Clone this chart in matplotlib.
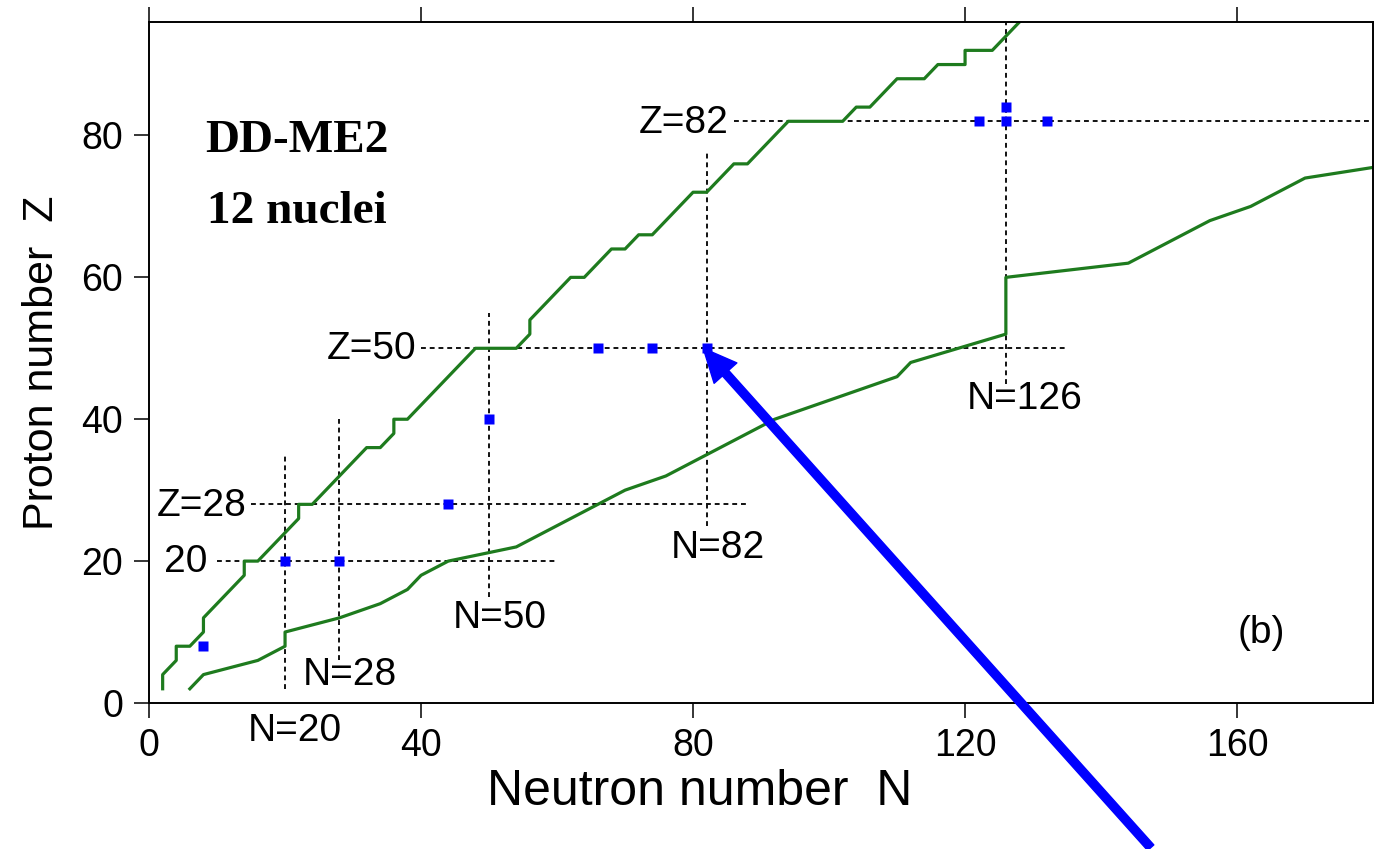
import numpy as np
import matplotlib.pyplot as plt

plt.rcParams['font.family'] = ['Liberation Sans', 'DejaVu Sans']

# proton drip line (N, Z)
prot_n = [2, 2, 4, 4, 6, 8, 8, 14, 14, 16, 22, 22, 24, 32, 34, 36, 36, 38, 48, 54,
          56, 56, 62, 64, 68, 70, 72, 74, 80, 82, 86, 88, 94, 102, 104, 106, 110,
          114, 116, 120, 120, 124, 130]
prot_z = [2, 4, 6, 8, 8, 10, 12, 18, 20, 20, 26, 28, 28, 36, 36, 38, 40, 40, 50, 50,
          52, 54, 60, 60, 64, 64, 66, 66, 72, 72, 76, 76, 82, 82, 84, 84, 88,
          88, 90, 90, 92, 92, 98]

# neutron drip line (N, Z)
neut_n = [6, 8, 16, 20, 20, 28, 34, 38, 40, 44, 54, 66, 70, 76, 82, 92, 110, 112,
          126, 126, 144, 156, 162, 170, 180]
neut_z = [2, 4, 6, 8, 10, 12, 14, 16, 18, 20, 22, 28, 30, 32, 35, 40, 46, 48,
          52, 60, 62, 68, 70, 74, 75.5]

# the 12 nuclei of the fit
nuc_n = [8, 20, 28, 44, 50, 66, 74, 82, 122, 126, 126, 132]
nuc_z = [8, 20, 20, 28, 40, 50, 50, 50, 82, 82, 84, 82]

# closed shells: magic number and extent of the guide line
z_magic = [20, 28, 50, 82]
z_from = [10, 15, 40, 86]
z_to = [60, 88, 135, 180]
n_magic = [20, 28, 50, 82, 126]
n_from = [2, 6, 15, 25, 45]
n_to = [35, 40, 55, 78, 96]

green = '#1e7b1e'
dots = (0, (2.5, 2.0))

fig = plt.figure(figsize=(13.75, 8.49), dpi=100)
ax = fig.add_axes([0.1084, 0.172, 0.8902, 0.8021])

ax.hlines(z_magic, z_from, z_to, colors='#111111', linestyles=dots, lw=1.4)
ax.vlines(n_magic, n_from, n_to, colors='#111111', linestyles=dots, lw=1.4)
ax.plot(prot_n, prot_z, color=green, lw=2.3)
ax.plot(neut_n, neut_z, color=green, lw=2.3)
ax.plot(nuc_n, nuc_z, 's', color='blue', ms=7.2, mec='none', zorder=4)

ax.set_xlim(0, 180)
ax.set_ylim(0, 96)
ax.set_xticks([0, 40, 80, 120, 160])
ax.set_yticks([0, 20, 40, 60, 80])
ax.tick_params(direction='out', length=10.8, width=1.1, labelsize=27,
               top=True, right=False, labeltop=False)
ax.tick_params(axis='x', pad=7)
ax.tick_params(axis='y', pad=8)
for s in ax.spines.values():
    s.set_linewidth(1.4)

ax.set_xlabel('Neutron number  N', fontsize=36, va='baseline')
ax.xaxis.set_label_coords(0.450, -0.1498)
ax.set_ylabel('Proton number  Z', fontsize=31, va='baseline')
ax.yaxis.set_label_coords(-0.0784, 0.5)

# shell labels
fs = 28
ax.text(8.65, 18.45, '20', fontsize=fs, ha='right', va='baseline')
ax.text(14.4, 26.3, 'Z=28', fontsize=fs, ha='right', va='baseline')
ax.text(39.3, 48.45, 'Z=50', fontsize=fs, ha='right', va='baseline')
ax.text(85.2, 80.4, 'Z=82', fontsize=fs, ha='right', va='baseline')
ax.text(14.5, -5.35, 'N=20', fontsize=fs, ha='left', va='baseline', clip_on=False)
ax.text(22.6, 2.54, 'N=28', fontsize=fs, ha='left', va='baseline')
ax.text(44.7, 10.56, 'N=50', fontsize=fs, ha='left', va='baseline')
ax.text(76.7, 20.4, 'N=82', fontsize=fs, ha='left', va='baseline')
ax.text(120.2, 41.5, 'N=126', fontsize=fs, ha='left', va='baseline')
ax.text(160.1, 8.45, '(b)', fontsize=fs, ha='left', va='baseline')

ax.text(8.2, 77.7, 'DD-ME2', fontsize=34, fontweight='bold',
        family='Liberation Serif', va='baseline')
ax.text(8.5, 67.7, '12 nuclei', fontsize=34, fontweight='bold',
        family='Liberation Serif', va='baseline')

ax.annotate('', xy=(81.5, 50), xytext=(147.3, -20.4),
            arrowprops=dict(facecolor='blue', edgecolor='blue', width=6,
                            headwidth=22, headlength=24, shrink=0),
            annotation_clip=False, zorder=6)

fig.savefig('out.png', dpi=100)
